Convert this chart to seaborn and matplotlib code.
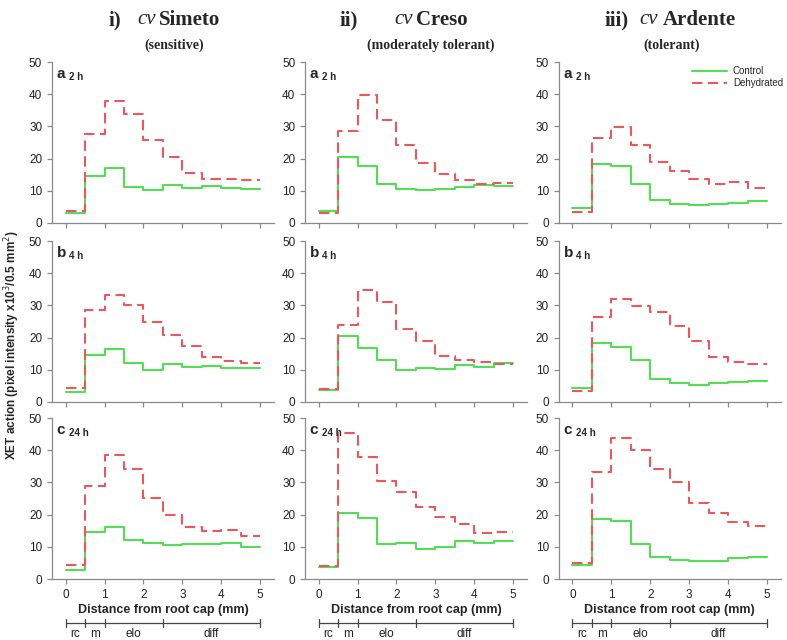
import numpy as np
import pandas as pd
import matplotlib
matplotlib.use("Agg")
import matplotlib.pyplot as plt
import matplotlib.transforms as mtransforms
import seaborn as sns

# bins of 0.5 mm from the root cap
distance = [0, 0.5, 1.0, 1.5, 2.0, 2.5, 3.0, 3.5, 4.0, 4.5]
end_distance = 5.0

cultivars = ["Simeto", "Creso", "Ardente"]
numerals = ["i)", "ii)", "iii)"]
tolerance = ["(sensitive)", "(moderately tolerant)", "(tolerant)"]
times = ["2 h", "4 h", "24 h"]
panel_letters = ["a", "b", "c"]

simeto_control = [
    [3.0, 14.5, 17.2, 11.2, 10.2, 11.7, 11.0, 11.5, 10.8, 10.5],
    [3.2, 14.5, 16.5, 12.0, 10.0, 11.8, 11.0, 11.3, 10.5, 10.7],
    [2.8, 14.5, 16.2, 12.2, 11.1, 10.7, 11.0, 11.0, 11.1, 10.0],
]
simeto_dehyd = [
    [3.8, 27.5, 38.0, 34.0, 25.8, 20.5, 15.5, 13.8, 13.8, 13.2],
    [4.2, 28.7, 33.3, 30.0, 24.7, 20.7, 17.5, 14.0, 12.8, 12.0],
    [4.2, 28.8, 38.6, 34.2, 25.3, 19.8, 16.3, 15.0, 15.3, 13.3],
]
creso_control = [
    [3.7, 20.5, 17.8, 12.0, 10.4, 10.2, 10.7, 11.3, 11.8, 11.5],
    [3.8, 20.5, 16.8, 13.0, 10.0, 10.6, 10.3, 11.6, 11.0, 12.2],
    [3.6, 20.6, 18.8, 11.0, 11.3, 9.2, 9.9, 11.7, 11.2, 11.9],
]
creso_dehyd = [
    [3.2, 28.5, 39.7, 32.0, 24.3, 18.5, 15.2, 13.5, 12.2, 12.5],
    [4.0, 24.0, 34.7, 31.2, 22.8, 19.0, 14.3, 13.0, 12.5, 11.8],
    [4.1, 45.3, 38.0, 30.6, 27.0, 22.3, 19.4, 17.2, 14.2, 14.6],
]
ardente_control = [
    [4.5, 18.4, 17.6, 12.0, 7.0, 5.8, 5.7, 5.9, 6.3, 6.8],
    [4.2, 18.2, 17.0, 13.0, 7.2, 5.8, 5.4, 6.0, 6.2, 6.6],
    [4.4, 18.5, 18.0, 11.0, 6.8, 5.8, 5.7, 5.5, 6.6, 6.7],
]
ardente_dehyd = [
    [3.3, 26.5, 29.8, 24.2, 18.8, 16.3, 13.8, 12.2, 12.8, 11.0],
    [3.3, 26.5, 32.0, 29.7, 27.8, 23.6, 18.8, 14.0, 12.3, 11.8],
    [5.0, 33.3, 43.8, 40.0, 34.2, 30.0, 23.5, 20.5, 17.6, 16.5],
]

zone_names = ["rc", "m", "elo", "diff"]
zone_edges = [0, 0.5, 1.0, 2.5, 5.0]

control = {"Simeto": simeto_control, "Creso": creso_control, "Ardente": ardente_control}
dehyd = {"Simeto": simeto_dehyd, "Creso": creso_dehyd, "Ardente": ardente_dehyd}

rows = []
for cv in cultivars:
    for ti, t in enumerate(times):
        for trt, src in [("Control", control), ("Dehydrated", dehyd)]:
            vals = src[cv][ti]
            xs = distance + [end_distance]
            ys = vals + [vals[-1]]
            for x, y in zip(xs, ys):
                rows.append((cv, t, trt, x, y))
df = pd.DataFrame(rows, columns=["cultivar", "time", "treatment", "distance", "xet"])

sns.set_style("ticks")
plt.rcParams["font.family"] = ["Liberation Sans", "DejaVu Sans"]

W, H = 787, 640
fig = plt.figure(figsize=(7.87, 6.4), dpi=100)

col_left = [0.066, 0.3875, 0.710]
col_width = 0.282
row_bottom = [0.6516, 0.3719, 0.0953]
row_height = 0.2515

# header pieces, left edges in pixels (numeral, cv, name) and subtitle centre
head_x = [(109, 137, 159), (340, 394, 416), (605, 639, 663)]
sub_cx = [174, 431, 672]

palette = {"Control": "#55dd55", "Dehydrated": "#e8585c"}
dashes = {"Control": "", "Dehydrated": (5, 2.6)}
spine_col = "#8a8a8a"

for ci, cv in enumerate(cultivars):
    for ri, t in enumerate(times):
        ax = fig.add_axes([col_left[ci], row_bottom[ri], col_width, row_height])
        sub = df[(df.cultivar == cv) & (df.time == t)]
        sns.lineplot(data=sub, x="distance", y="xet", hue="treatment",
                     style="treatment", palette=palette, dashes=dashes,
                     drawstyle="steps-post", estimator=None, sort=False,
                     linewidth=1.5, ax=ax, legend=(ci == 2 and ri == 0))
        ax.set_xlim(-0.35, 5.35)
        ax.set_ylim(0, 50)
        ax.set_xticks(range(6))
        ax.set_yticks(range(0, 51, 10))
        sns.despine(ax=ax)
        for s in ["left", "bottom"]:
            ax.spines[s].set_color(spine_col)
            ax.spines[s].set_linewidth(0.9)
        ax.tick_params(colors=spine_col, labelcolor="#222222", labelsize=8.5,
                       length=3.5, width=0.9)
        ax.set_ylabel("")
        ax.text(0.022, 0.97, panel_letters[ri], transform=ax.transAxes,
                fontsize=11, fontweight="bold", va="top", ha="left")
        ax.text(0.078, 0.94, t, transform=ax.transAxes,
                fontsize=7, fontweight="bold", va="top", ha="left")
        if ri < 2:
            ax.set_xticklabels([])
            ax.set_xlabel("")
        else:
            ax.set_xlabel("Distance from root cap (mm)", fontsize=9,
                          fontweight="bold", labelpad=2)
            trans = mtransforms.blended_transform_factory(ax.transData, ax.transAxes)
            ybar = -0.275
            ax.plot([zone_edges[0], zone_edges[-1]], [ybar, ybar], color="#444444",
                    lw=0.9, transform=trans, clip_on=False)
            for e in zone_edges:
                ax.plot([e, e], [ybar - 0.025, ybar + 0.025], color="#444444",
                        lw=0.9, transform=trans, clip_on=False)
            for zi, name in enumerate(zone_names):
                mid = (zone_edges[zi] + zone_edges[zi + 1]) / 2
                ax.text(mid, ybar - 0.03, name, transform=trans, ha="center",
                        va="top", fontsize=8.5, color="#222222")
        if ci == 2 and ri == 0:
            ax.legend(loc="upper right", bbox_to_anchor=(1.05, 1.03),
                      frameon=False, fontsize=7, handlelength=3.6,
                      handletextpad=0.6, labelspacing=0.25)

    # column headers
    hx = head_x[ci]
    ty = 1 - 20 / H
    fig.text(hx[0] / W, ty, numerals[ci], ha="left", va="center",
             fontsize=15, fontweight="bold", family="Liberation Serif")
    fig.text(hx[1] / W, ty, "cv", ha="left", va="center", fontsize=15,
             style="italic", family="Liberation Serif")
    fig.text(hx[2] / W, ty, cultivars[ci], ha="left", va="center",
             fontsize=15, fontweight="bold", family="Liberation Serif")
    fig.text(sub_cx[ci] / W, 1 - 45 / H, tolerance[ci], ha="center", va="center",
             fontsize=10, fontweight="bold", family="Liberation Serif")

fig.text(0.016, 1 - 345 / H, "XET action (pixel intensity x10$^3$/0.5 mm$^2$)",
         rotation=90, ha="center", va="center", fontsize=8.5, fontweight="bold")

fig.savefig("out.png", dpi=100)
